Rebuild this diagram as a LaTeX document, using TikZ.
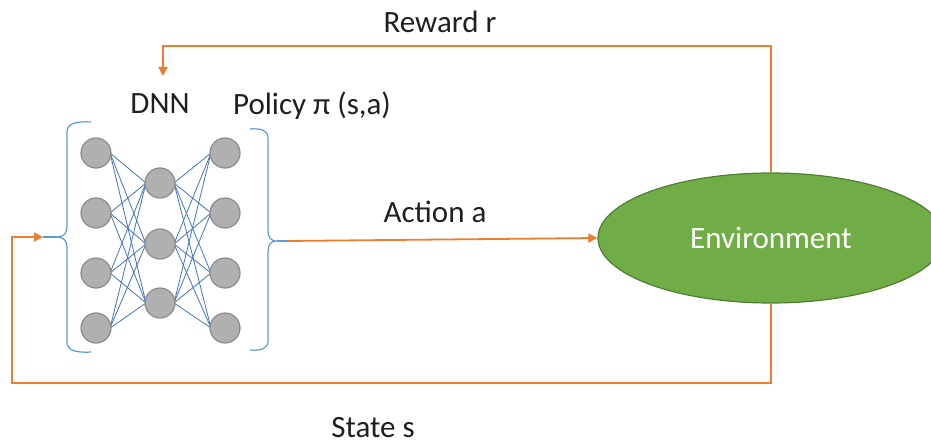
\documentclass[tikz,border=0pt]{standalone}
\usepackage{fontspec}
\setmainfont{Carlito}
\usetikzlibrary{arrows.meta,shapes.geometric}
\definecolor{flow}{HTML}{ED7D31}
\definecolor{wire}{HTML}{4472C4}
\definecolor{bracecol}{HTML}{5B9BD5}
\definecolor{envfill}{HTML}{70AD47}
\definecolor{envline}{HTML}{507E32}
\definecolor{cellfill}{HTML}{B0B0B0}
\definecolor{cellline}{HTML}{8C8C8C}
\tikzset{
  neuron/.style={circle, fill=cellfill, draw=cellline, line width=1.2pt, minimum size=30pt, inner sep=0pt},
  synapse/.style={wire, line width=0.8pt},
  bracket/.style={bracecol, line width=1.2pt},
  flowline/.style={flow, line width=1.8pt},
  flowarrow/.style={flowline, -{Triangle[width=9pt,length=9pt]}},
  label/.style={font=\fontsize{31}{36}\selectfont, text=black!88, inner sep=0pt},
}
\begin{document}
\begin{tikzpicture}[x=1pt, y=-1pt]
\useasboundingbox (0,0) rectangle (931,444);

% input layer, hidden layer, output layer
\foreach \i/\y in {1/153, 2/213, 3/273, 4/328} {
  \coordinate (a\i) at (96,\y);
  \coordinate (c\i) at (225,\y);
}
\foreach \j/\y in {1/183, 2/244, 3/303} {
  \coordinate (b\j) at (160,\y);
}
% fully connected wiring between the layers
\foreach \i in {1,...,4} {
  \foreach \j in {1,2,3} {
    \draw[synapse] ([xshift=14pt]a\i) -- ([xshift=-14pt]b\j);
    \draw[synapse] ([xshift=14pt]b\j) -- ([xshift=-14pt]c\i);
  }
}
% neurons drawn over the wiring
\foreach \i in {1,...,4} {
  \node[neuron] (na\i) at (a\i) {};
  \node[neuron] (nc\i) at (c\i) {};
}
\foreach \j in {1,2,3} {
  \node[neuron] (nb\j) at (b\j) {};
}

% left brace around the network input
\coordinate (inL) at (43,237);
\draw[bracket] (91,122) .. controls (75,121) and (67,124) .. (67,132)
  -- (67,226) .. controls (67,233) and (64,237) .. (57,237)
  .. controls (64,237) and (67,241) .. (67,248)
  -- (67,342) .. controls (67,350) and (75,353) .. (91,352);
\draw[bracket] (inL) -- (57,237);

% right brace around the network output
\coordinate (outR) at (287,241);
\draw[bracket] (250,129) .. controls (262,128) and (268,131) .. (268,138)
  -- (268,230) .. controls (268,237) and (270,241) .. (277,241)
  .. controls (270,241) and (268,245) .. (268,252)
  -- (268,341) .. controls (268,348) and (262,351) .. (250,350);
\draw[bracket] (277,241) -- (outR);

% environment
\node[ellipse, fill=envfill, draw=envline, line width=1.2pt,
      minimum width=346pt, minimum height=130pt, inner sep=0pt,
      font=\fontsize{31}{36}\selectfont, text=white] (env) at (771,238) {Environment};

% labels
\node[label] (lreward) at (440,22) {Reward r};
\node[label] (ldnn) at (160,104) {DNN};
\node[label] (lpolicy) at (312,106) {Policy π (s,a)};
\node[label] (laction) at (435,212) {Action a};
\node[label] (lstate) at (373,428) {State s};

% feedback loops
\coordinate (rwdCorner) at (163,46);
\coordinate (rwdTip) at (163,76);
\coordinate (stateCorner) at (12,383);
\draw[flowarrow] (env.north) |- (rwdCorner) -- (rwdTip);
\draw[flowarrow] (env.south) |- (stateCorner) |- (inL);
\draw[flowarrow] (outR) -- (env.west);
\end{tikzpicture}
\end{document}
